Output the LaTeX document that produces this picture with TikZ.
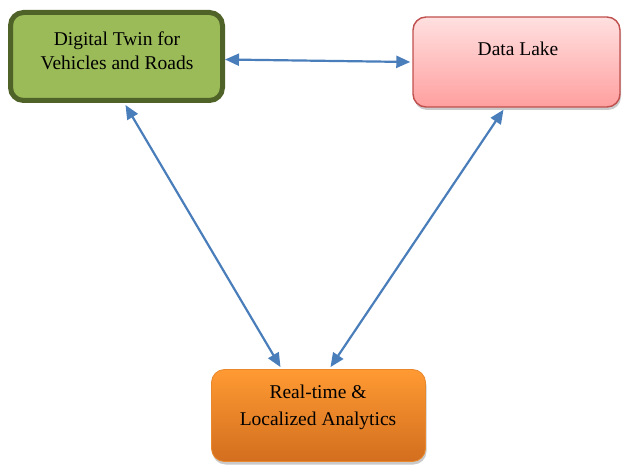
\documentclass[tikz,border=0pt]{standalone}
\usepackage{fontspec}
\setmainfont{Liberation Serif}
\usetikzlibrary{arrows.meta,shadows}

\definecolor{twinfill}{HTML}{9BBB59}
\definecolor{twinedge}{HTML}{4F6228}
\definecolor{laketop}{HTML}{FFE0E0}
\definecolor{lakebot}{HTML}{FF9F9F}
\definecolor{lakeedge}{HTML}{C0504D}
\definecolor{rttop}{HTML}{FF9A33}
\definecolor{rtbot}{HTML}{D26E1E}
\definecolor{rtedge}{HTML}{E8872B}
\definecolor{linkblue}{HTML}{4A7EBB}

\tikzset{
  boxbase/.style={rounded corners=13pt, inner sep=0pt},
  labeltext/.style={align=center, font=\rmfamily\fontsize{19.5}{24}\selectfont, inner sep=0pt},
  link/.style={draw=linkblue, line width=2.2pt,
    {Triangle[length=14pt,width=12pt]}-{Triangle[length=14pt,width=12pt]}},
  softshadow/.style={drop shadow={shadow xshift=1pt, shadow yshift=-3pt,
    opacity=0.35, fill=black!60}}
}

\begin{document}
\begin{tikzpicture}[x=1pt,y=-1pt]
  \useasboundingbox (0,0) rectangle (622,465);

  % boxes
  \node[boxbase, draw=twinedge, line width=5pt, fill=twinfill,
        minimum width=212pt, minimum height=88pt] (twin) at (116.5,56.5) {};
  \node[boxbase, draw=lakeedge, line width=1.4pt, top color=laketop, bottom color=lakebot,
        softshadow, minimum width=207pt, minimum height=90pt] (lake) at (516.5,62) {};
  \node[boxbase, draw=rtedge, line width=0.8pt, top color=rttop, bottom color=rtbot,
        softshadow, minimum width=214pt, minimum height=92pt] (rt) at (318.5,415.5) {};

  % captions
  \node[labeltext] (twintext) at (117,51) {Digital Twin for\\Vehicles and Roads};
  \node[labeltext] (laketext) at (518,49) {Data Lake};
  \node[labeltext, font=\rmfamily\fontsize{19.5}{27}\selectfont] (rttext) at (318,407) {Real-time \&\\Localized Analytics};

  % connectors
  \draw[link] ([yshift=-3pt]twin.east) -- ([xshift=-2pt]lake.west);
  \draw[link] ([xshift=9pt,yshift=-2pt]twin.south) -- ([xshift=-38pt,yshift=2pt]rt.north);
  \draw[link] ([xshift=-13pt,yshift=-2pt]lake.south) -- ([xshift=12pt,yshift=2pt]rt.north);
\end{tikzpicture}
\end{document}
